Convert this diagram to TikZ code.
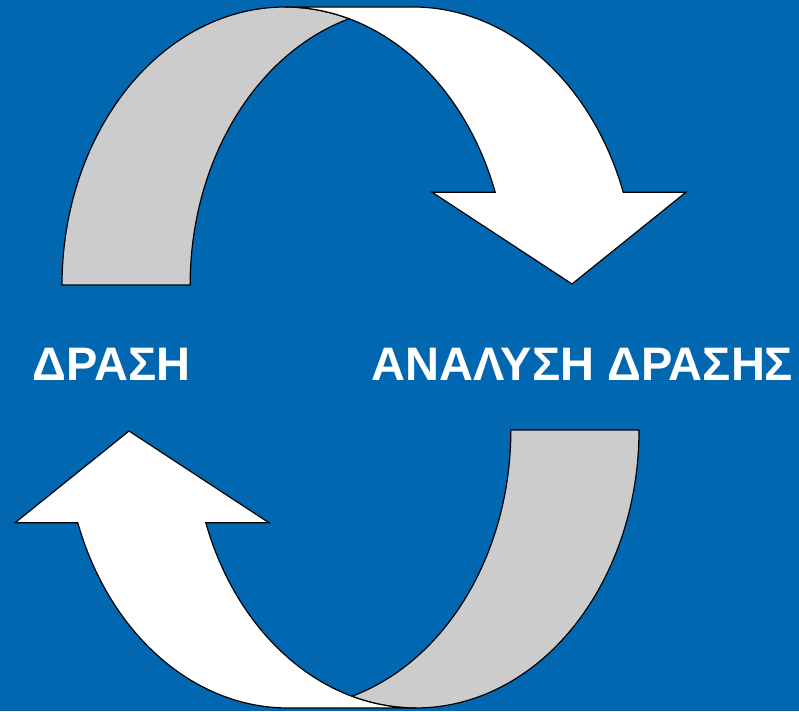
\documentclass[tikz,border=0pt]{standalone}
\usepackage{fontspec}
\setmainfont{Liberation Sans}
\definecolor{bgblue}{RGB}{0,103,176}
\definecolor{backgray}{RGB}{204,204,204}
\newcommand\drawcurvedarrow{%
  % back face (grey)
  \path[backface] (62,426)
    arc[start angle=180,end angle=73.3,x radius=223,y radius=278]
    arc[start angle=106.7,end angle=180,x radius=223,y radius=278]
    -- cycle;
  % front face (white) with arrow head
  \path[frontface] (285,704)
    arc[start angle=90,end angle=19.5,x radius=223,y radius=278]
    -- (432,518.8) -- (572,427) -- (686,518.8) -- (623.2,518.8)
    arc[start angle=19.5,end angle=90,x radius=223,y radius=278]
    -- cycle;
}
\begin{document}
\begin{tikzpicture}[x=1pt,y=1pt,
  band/.style={draw=black, line width=1.2pt, line join=miter},
  backface/.style={band, fill=backgray},
  frontface/.style={band, fill=white},
  lbl/.style={text=white, font=\bfseries\fontsize{47}{47}\selectfont, inner sep=0pt, anchor=base}]
\fill[bgblue] (0,0) rectangle (799,711);
\useasboundingbox (0,0) rectangle (799,711);
\drawcurvedarrow
\begin{scope}[rotate around={180:(350.5,353.5)}]
\drawcurvedarrow
\end{scope}
\node[lbl] (act) at (111.5,330) {ΔΡΑΣΗ};
\node[lbl] (anal) at (582.5,330) {ΑΝΑΛΥΣΗ ΔΡΑΣΗΣ};
\end{tikzpicture}
\end{document}
